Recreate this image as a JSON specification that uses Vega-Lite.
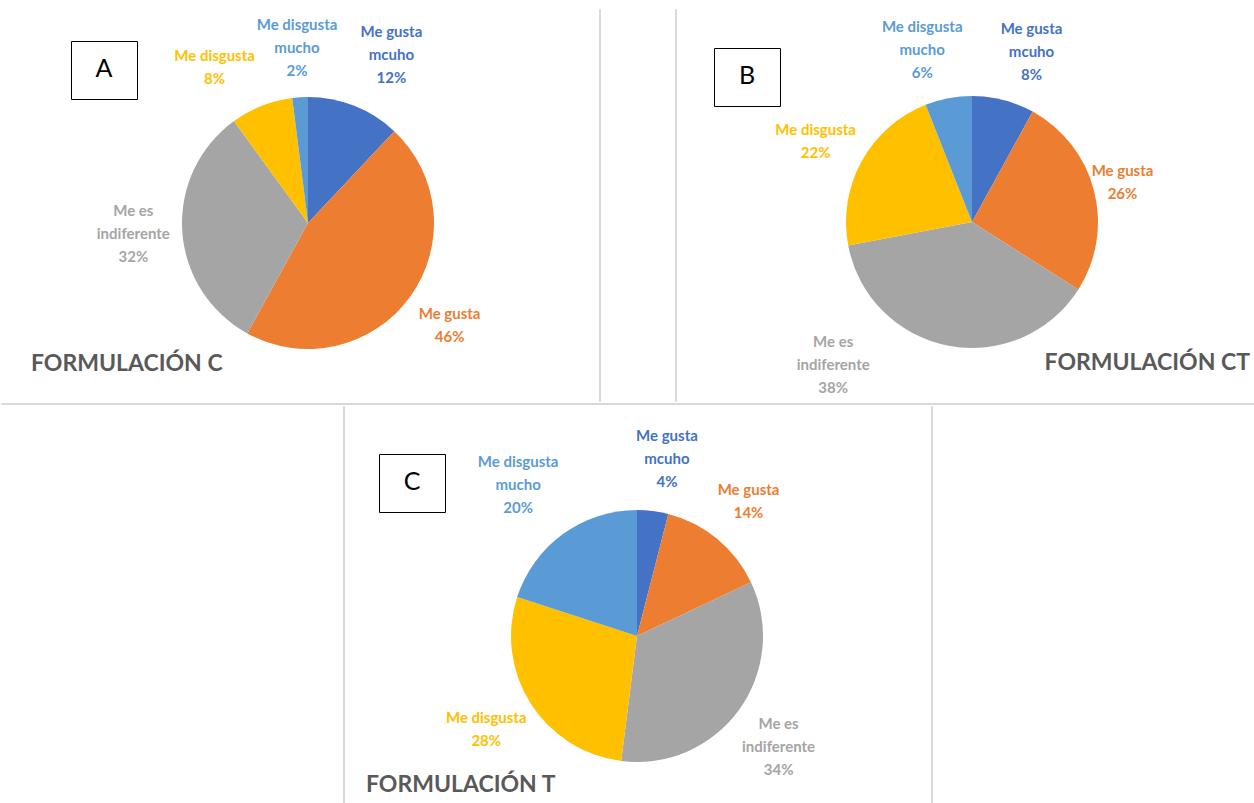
{
  "$schema": "https://vega.github.io/schema/vega-lite/v6.json",
  "background": "white",
  "padding": 0,
  "config": {
    "view": {"stroke": null},
    "font": "Lato",
    "legend": {"orient": "none", "strokeColor": "black", "padding": 16, "symbolSize": 0, "symbolOpacity": 0, "symbolStrokeWidth": 0, "labelOffset": 32, "labelFontSize": 1, "labelColor": "white", "titleFont": "Lato", "titleFontSize": 25, "titleFontWeight": "normal", "titleColor": "black", "titlePadding": 0, "titleLimit": 500, "titleAnchor": "middle", "titleAlign": "center"}
  },
  "datasets": {
    "A": [
      {"cat": "Me gusta mcuho", "label": "Me gusta\nmcuho\n12%", "pct": 12, "o": 1},
      {"cat": "Me gusta", "label": "Me gusta\n46%", "pct": 46, "o": 2},
      {"cat": "Me es indiferente", "label": "Me es\nindiferente\n32%", "pct": 32, "o": 3},
      {"cat": "Me disgusta", "label": "Me disgusta\n8%", "pct": 8, "o": 4},
      {"cat": "Me disgusta mucho", "label": "Me disgusta\nmucho\n2%", "pct": 2, "o": 5}
    ],
    "B": [
      {"cat": "Me gusta mcuho", "label": "Me gusta\nmcuho\n8%", "pct": 8, "o": 1},
      {"cat": "Me gusta", "label": "Me gusta\n26%", "pct": 26, "o": 2},
      {"cat": "Me es indiferente", "label": "Me es\nindiferente\n38%", "pct": 38, "o": 3},
      {"cat": "Me disgusta", "label": "Me disgusta\n22%", "pct": 22, "o": 4},
      {"cat": "Me disgusta mucho", "label": "Me disgusta\nmucho\n6%", "pct": 6, "o": 5}
    ],
    "C": [
      {"cat": "Me gusta mcuho", "label": "Me gusta\nmcuho\n4%", "pct": 4, "o": 1},
      {"cat": "Me gusta", "label": "Me gusta\n14%", "pct": 14, "o": 2},
      {"cat": "Me es indiferente", "label": "Me es\nindiferente\n34%", "pct": 34, "o": 3},
      {"cat": "Me disgusta", "label": "Me disgusta\n28%", "pct": 28, "o": 4},
      {"cat": "Me disgusta mucho", "label": "Me disgusta\nmucho\n20%", "pct": 20, "o": 5}
    ]
  },
  "spacing": 0,
  "resolve": {"scale": {"shape": "independent"}, "legend": {"shape": "independent"}},
  "vconcat": [
    {
      "spacing": 0,
      "resolve": {"scale": {"shape": "independent"}, "legend": {"shape": "independent"}},
      "hconcat": [
        {
          "width": 597, "height": 401,
          "title": {"text": "FORMULACIÓN C", "orient": "bottom", "anchor": "start", "frame": "group", "offset": -48, "dx": 30, "font": "Lato", "fontSize": 23, "fontWeight": "bold", "color": "#595959", "baseline": "top"},
          "data": {"name": "A"},
          "layer": [
            {
              "mark": {"type": "arc", "outerRadius": 126, "xOffset": 8.5, "yOffset": 22.5},
              "encoding": {
                "theta": {"field": "pct", "type": "quantitative", "stack": true},
                "order": {"field": "o", "type": "quantitative"},
                "color": {"field": "cat", "type": "nominal", "legend": null,
                  "scale": {"domain": ["Me gusta mcuho", "Me gusta", "Me es indiferente", "Me disgusta", "Me disgusta mucho"], "range": ["#4472C4", "#ED7D31", "#A5A5A5", "#FFC000", "#5B9BD5"]}}
              }
            },
            {
              "mark": {"type": "text", "radius": 175, "xOffset": 8.5, "yOffset": 22.5, "font": "Lato", "fontSize": 15, "fontWeight": "bold", "lineBreak": "\n", "lineHeight": 23,
                "dx": {"expr": "datum.cat == 'Me disgusta' ? -29 : datum.cat == 'Me gusta mcuho' ? 19 : 0"},
                "dy": {"expr": "(datum.cat == 'Me gusta' || datum.cat == 'Me disgusta' ? -11.5 : -23) + (datum.cat == 'Me disgusta' ? 7 : datum.cat == 'Me gusta mcuho' ? -5 : 0)"}},
              "encoding": {
                "theta": {"field": "pct", "type": "quantitative", "stack": true},
                "order": {"field": "o", "type": "quantitative"},
                "color": {"field": "cat", "type": "nominal", "legend": null},
                "text": {"field": "label"}
              }
            },
            {
              "data": {"values": []},
              "mark": "point",
              "encoding": {"shape": {"datum": "A", "type": "nominal", "legend": {"title": "A", "legendX": 70, "legendY": 41}}}
            }
          ]
        },
        {
          "spacing": 0,
          "vconcat": [
            {"width": 1, "height": 8, "data": {"values": []}, "mark": "point"},
            {"width": 1, "height": 392, "data": {"values": []}, "mark": "point", "view": {"stroke": "#d9d9d9", "strokeWidth": 1}}
          ]
        },
        {"width": 73, "height": 1, "data": {"values": []}, "mark": "point"},
        {
          "spacing": 0,
          "vconcat": [
            {"width": 1, "height": 8, "data": {"values": []}, "mark": "point"},
            {"width": 1, "height": 392, "data": {"values": []}, "mark": "point", "view": {"stroke": "#d9d9d9", "strokeWidth": 1}}
          ]
        },
        {
          "width": 580, "height": 401,
          "title": {"text": "FORMULACIÓN CT", "orient": "bottom", "anchor": "end", "frame": "group", "offset": -49, "dx": -7, "font": "Lato", "fontSize": 23, "fontWeight": "bold", "color": "#595959", "baseline": "top"},
          "data": {"name": "B"},
          "layer": [
            {
              "mark": {"type": "arc", "outerRadius": 126, "xOffset": 5, "yOffset": 21.5},
              "encoding": {
                "theta": {"field": "pct", "type": "quantitative", "stack": true},
                "order": {"field": "o", "type": "quantitative"},
                "color": {"field": "cat", "type": "nominal", "legend": null,
                  "scale": {"domain": ["Me gusta mcuho", "Me gusta", "Me es indiferente", "Me disgusta", "Me disgusta mucho"], "range": ["#4472C4", "#ED7D31", "#A5A5A5", "#FFC000", "#5B9BD5"]}}
              }
            },
            {
              "mark": {"type": "text", "radius": 175, "xOffset": 5, "yOffset": 21.5, "font": "Lato", "fontSize": 15, "fontWeight": "bold", "lineBreak": "\n", "lineHeight": 23,
                "dx": {"expr": "datum.cat == 'Me es indiferente' ? -106 : datum.cat == 'Me disgusta mucho' ? -17 : datum.cat == 'Me gusta mcuho' ? 16 : datum.cat == 'Me gusta' ? -19 : datum.cat == 'Me disgusta' ? -3 : 0"},
                "dy": {"expr": "(datum.cat == 'Me gusta' || datum.cat == 'Me disgusta' ? -11.5 : -23) + (datum.cat == 'Me es indiferente' ? -29 : datum.cat == 'Me gusta' ? 4 : datum.cat == 'Me disgusta' ? 4 : 0)"}},
              "encoding": {
                "theta": {"field": "pct", "type": "quantitative", "stack": true},
                "order": {"field": "o", "type": "quantitative"},
                "color": {"field": "cat", "type": "nominal", "legend": null},
                "text": {"field": "label"}
              }
            },
            {
              "data": {"values": []},
              "mark": "point",
              "encoding": {"shape": {"datum": "B", "type": "nominal", "legend": {"title": "B", "legendX": 37, "legendY": 48}}}
            }
          ]
        }
      ]
    },
    {
      "spacing": 0,
      "resolve": {"scale": {"shape": "independent"}, "legend": {"shape": "independent"}},
      "vconcat": [
        {"width": 1254, "height": 1, "data": {"values": []}, "mark": "point", "view": {"stroke": "#d9d9d9", "strokeWidth": 1}},
        {
          "spacing": 0,
          "resolve": {"scale": {"shape": "independent"}, "legend": {"shape": "independent"}},
          "hconcat": [
            {"width": 341, "height": 1, "data": {"values": []}, "mark": "point"},
            {"width": 1, "height": 400, "data": {"values": []}, "mark": "point", "view": {"stroke": "#d9d9d9", "strokeWidth": 1}},
            {
              "width": 585, "height": 400,
              "title": {"text": "FORMULACIÓN T", "orient": "bottom", "anchor": "start", "frame": "group", "offset": -32, "dx": 21, "font": "Lato", "fontSize": 23, "fontWeight": "bold", "color": "#595959", "baseline": "top"},
              "data": {"name": "C"},
              "layer": [
                {
                  "mark": {"type": "arc", "outerRadius": 126, "xOffset": -0.5, "yOffset": 30},
                  "encoding": {
                    "theta": {"field": "pct", "type": "quantitative", "stack": true},
                    "order": {"field": "o", "type": "quantitative"},
                    "color": {"field": "cat", "type": "nominal", "legend": null,
                      "scale": {"domain": ["Me gusta mcuho", "Me gusta", "Me es indiferente", "Me disgusta", "Me disgusta mucho"], "range": ["#4472C4", "#ED7D31", "#A5A5A5", "#FFC000", "#5B9BD5"]}}
                  }
                },
                {
                  "mark": {"type": "text", "radius": 175, "xOffset": -0.5, "yOffset": 30, "font": "Lato", "fontSize": 15, "fontWeight": "bold", "lineBreak": "\n", "lineHeight": 23,
                    "dx": {"expr": "datum.cat == 'Me disgusta mucho' ? -16 : datum.cat == 'Me gusta mcuho' ? 8 : datum.cat == 'Me disgusta' ? -3 : 0"},
                    "dy": {"expr": "(datum.cat == 'Me gusta' || datum.cat == 'Me disgusta' ? -11.5 : -23) + (datum.cat == 'Me disgusta mucho' ? -9 : datum.cat == 'Me es indiferente' ? 8 : datum.cat == 'Me gusta mcuho' ? -3 : 0)"}},
                  "encoding": {
                    "theta": {"field": "pct", "type": "quantitative", "stack": true},
                    "order": {"field": "o", "type": "quantitative"},
                    "color": {"field": "cat", "type": "nominal", "legend": null},
                    "text": {"field": "label"}
                  }
                },
                {
                  "data": {"values": []},
                  "mark": "point",
                  "encoding": {"shape": {"datum": "C", "type": "nominal", "legend": {"title": "C", "legendX": 34, "legendY": 48}}}
                }
              ]
            },
            {"width": 1, "height": 400, "data": {"values": []}, "mark": "point", "view": {"stroke": "#d9d9d9", "strokeWidth": 1}}
          ]
        }
      ]
    }
  ]
}
